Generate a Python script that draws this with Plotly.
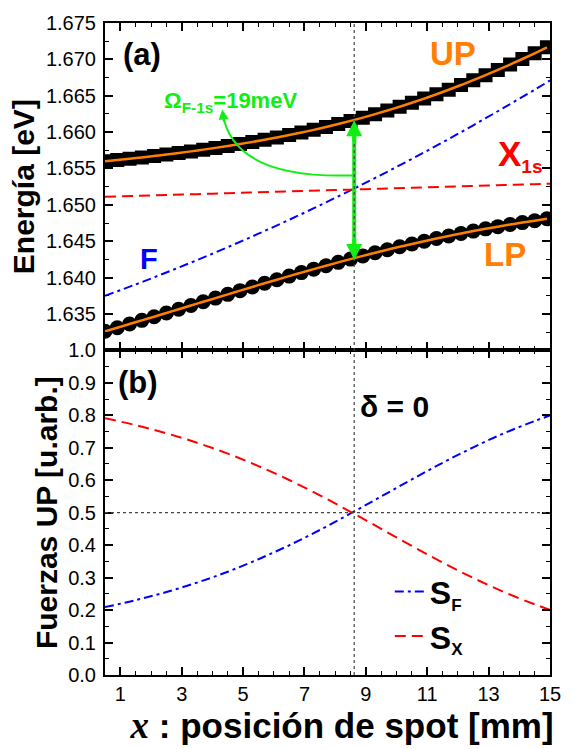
import plotly.graph_objects as go
from plotly.subplots import make_subplots

# ---------------- data ----------------
# experimental polariton energies (eV) vs spot position (mm)
x_pts = [0.5, 0.9, 1.3, 1.7, 2.1, 2.5, 2.9, 3.3, 3.7, 4.1, 4.5, 4.9, 5.3, 5.7,
         6.1, 6.5, 6.9, 7.3, 7.7, 8.1, 8.5, 8.9, 9.3, 9.7, 10.1, 10.5, 10.9,
         11.3, 11.7, 12.1, 12.5, 12.9, 13.3, 13.7, 14.1, 14.5, 14.9]
up_energy = [1.65598, 1.65615, 1.65633, 1.65652, 1.65671, 1.65692, 1.65713,
             1.65735, 1.65759, 1.65783, 1.65809, 1.65836, 1.65865, 1.65894,
             1.65926, 1.65959, 1.65994, 1.66031, 1.66070, 1.66111, 1.66154,
             1.66199, 1.66247, 1.66297, 1.66349, 1.66404, 1.66461, 1.66520,
             1.66582, 1.66647, 1.66714, 1.66783, 1.66855, 1.66929, 1.67005,
             1.67084, 1.67165]
lp_energy = [1.63262, 1.63311, 1.63361, 1.63412, 1.63462, 1.63513, 1.63565,
             1.63616, 1.63667, 1.63718, 1.63769, 1.63820, 1.63871, 1.63921,
             1.63970, 1.64020, 1.64068, 1.64116, 1.64163, 1.64209, 1.64254,
             1.64298, 1.64341, 1.64383, 1.64423, 1.64462, 1.64500, 1.64537,
             1.64572, 1.64606, 1.64639, 1.64670, 1.64700, 1.64729, 1.64756,
             1.64782, 1.64808]

# bare modes and Hopfield coefficients
x_line = [0.5, 1.5, 2.5, 3.5, 4.5, 5.5, 6.5, 7.5, 8.5, 9.5, 10.5, 11.5, 12.5,
          13.5, 14.5, 15.0]
f_energy = [1.63750, 1.63906, 1.64070, 1.64240, 1.64418, 1.64603, 1.64794,
            1.64993, 1.65199, 1.65412, 1.65632, 1.65859, 1.66094, 1.66336,
            1.66583, 1.66710]
x1s_energy = [1.65110, 1.65122, 1.65135, 1.65147, 1.65160, 1.65172, 1.65184,
              1.65197, 1.65209, 1.65222, 1.65234, 1.65246, 1.65259, 1.65271,
              1.65284, 1.65290]
s_f = [0.2090, 0.2305, 0.2555, 0.2846, 0.3181, 0.3566, 0.3995, 0.4466, 0.4974,
       0.5498, 0.6025, 0.6535, 0.7012, 0.7445, 0.7822, 0.7993]
s_x = [0.7910, 0.7695, 0.7445, 0.7154, 0.6819, 0.6434, 0.6005, 0.5534, 0.5026,
       0.4502, 0.3975, 0.3465, 0.2988, 0.2555, 0.2178, 0.2007]

x_cross = 8.62           # zero detuning position (mm)
up_cross = 1.66162       # UP at crossing
lp_cross = 1.64243       # LP at crossing

x_ticks = [1, 3, 5, 7, 9, 11, 13, 15]
y1_ticks = [1.635, 1.640, 1.645, 1.650, 1.655, 1.660, 1.665, 1.670, 1.675]
y2_ticks = [0.0, 0.1, 0.2, 0.3, 0.4, 0.5, 0.6, 0.7, 0.8, 0.9, 1.0]

# ---------------- style ----------------
FONT = "Liberation Sans"
ORANGE = "#FF8000"
BLUE = "#0000FF"
RED = "#FF0000"
GREEN = "#11EE11"
DASHDOT = "9px,4px,3px,4px"
DASH = "11px,6px"

fig = make_subplots(rows=2, cols=1, shared_xaxes=True, vertical_spacing=0)

fig.add_trace(go.Scatter(x=x_line, y=f_energy, mode="lines", line_shape="spline",
                         line=dict(color=BLUE, width=2, dash=DASHDOT),
                         showlegend=False), row=1, col=1)
fig.add_trace(go.Scatter(x=x_line, y=x1s_energy, mode="lines", line_shape="spline",
                         line=dict(color=RED, width=2, dash=DASH),
                         showlegend=False), row=1, col=1)
fig.add_trace(go.Scatter(x=x_pts, y=up_energy, mode="markers",
                         marker=dict(symbol="square", size=14, color="black"),
                         showlegend=False), row=1, col=1)
fig.add_trace(go.Scatter(x=x_pts, y=lp_energy, mode="markers",
                         marker=dict(symbol="circle", size=15, color="black"),
                         showlegend=False), row=1, col=1)
fig.add_trace(go.Scatter(x=x_pts, y=up_energy, mode="lines", line_shape="spline",
                         line=dict(color=ORANGE, width=2.5), showlegend=False),
              row=1, col=1)
fig.add_trace(go.Scatter(x=x_pts, y=lp_energy, mode="lines", line_shape="spline",
                         line=dict(color=ORANGE, width=2.5), showlegend=False),
              row=1, col=1)

SUB = '<span style="font-size:17px">{}</span>'
fig.add_trace(go.Scatter(x=x_line, y=s_f, mode="lines", line_shape="spline",
                         name="<b>S<sub>" + SUB.format("F") + "</sub></b>",
                         line=dict(color=BLUE, width=2, dash=DASHDOT)), row=2, col=1)
fig.add_trace(go.Scatter(x=x_line, y=s_x, mode="lines", line_shape="spline",
                         name="<b>S<sub>" + SUB.format("X") + "</sub></b>",
                         line=dict(color=RED, width=2, dash=DASH)), row=2, col=1)

axis_common = dict(showline=True, linecolor="black", linewidth=2, mirror="allticks",
                   ticks="inside", ticklen=8, tickwidth=1.5, tickcolor="black",
                   showgrid=False, zeroline=False,
                   tickfont=dict(family=FONT, size=20, color="black"))

fig.update_xaxes(**axis_common, range=[0.5, 15.0], tickvals=x_ticks,
                 minor=dict(dtick=0.5, tick0=1, ticklen=4, tickwidth=1.2,
                            tickcolor="black", ticks="inside", showgrid=False))
fig.update_xaxes(showticklabels=False, row=1, col=1)
fig.update_xaxes(title=dict(
    text='&nbsp;&nbsp;&nbsp;<span style="font-family:Liberation Serif;font-size:37px">'
         '<b><i>x</i></b></span><b> : posición de spot [mm]</b>',
    font=dict(family=FONT, size=35, color="black"), standoff=7), row=2, col=1)

fig.update_yaxes(**axis_common, ticklabelstandoff=3)
fig.update_yaxes(range=[1.630, 1.675], tickvals=y1_ticks,
                 tickformat=".3f", domain=[0.498, 1.0],
                 minor=dict(dtick=0.0025, tick0=1.630, ticklen=4, tickwidth=1.2,
                            tickcolor="black", ticks="inside", showgrid=False),
                 title=dict(text="<b>Energía [eV]</b>",
                            font=dict(family=FONT, size=30, color="black"),
                            standoff=2),
                 row=1, col=1)
fig.update_yaxes(range=[0.0, 1.0], tickvals=y2_ticks, tickformat=".1f",
                 domain=[0.0, 0.498],
                 minor=dict(dtick=0.05, tick0=0, ticklen=4, tickwidth=1.2,
                            tickcolor="black", ticks="inside", showgrid=False),
                 title=dict(text="<b>Fuerzas UP [u.arb.]</b>",
                            font=dict(family=FONT, size=30, color="black"),
                            standoff=2),
                 row=2, col=1)

shapes = [
    # green shaft of the double arrow (Rabi splitting)
    dict(type="line", xref="x", yref="y", x0=x_cross, x1=x_cross,
         y0=lp_cross + 0.0012, y1=up_cross - 0.0012,
         line=dict(color=GREEN, width=4), layer="above"),
    # curved arrow towards the label
    dict(type="path", xref="x", yref="y",
         path="M 8.56,1.65405 Q 4.64,1.65351 4.33,1.66270",
         line=dict(color=GREEN, width=2), layer="above"),
    # zero-detuning vertical dotted line
    dict(type="line", xref="x", yref="paper", x0=x_cross, x1=x_cross, y0=0, y1=1,
         line=dict(color="#444444", width=1.2, dash="dot"), layer="above"),
    # S = 0.5 horizontal dotted line
    dict(type="line", xref="x2 domain", yref="y2", x0=0, x1=1, y0=0.5, y1=0.5,
         line=dict(color="#444444", width=1.2, dash="dot"), layer="above"),
]
fig.update_layout(shapes=shapes)

def txt(text, x, y, size, color="black", xref="x", yref="y", xanchor="center",
        yanchor="middle"):
    return dict(text=text, x=x, y=y, xref=xref, yref=yref, showarrow=False,
                xanchor=xanchor, yanchor=yanchor,
                font=dict(family=FONT, size=size, color=color))

annotations = [
    txt("<b>(a)</b>", 1.71, 1.6707, 31),
    txt("<b>UP</b>", 11.84, 1.67081, 33, ORANGE),
    txt("<b>LP</b>", 13.53, 1.64324, 33, ORANGE),
    txt("<b>F</b>", 1.93, 1.64250, 29, BLUE),
    txt('<b>X<sub><span style="font-size:19px">1s</span></sub></b>',
        13.24, 1.6568, 35, RED, xanchor="left"),
    txt("<b>Ω<sub>F-1s</sub>=19meV</b>", 2.35, 1.6641, 22, GREEN, xanchor="left"),
    txt("<b>(b)</b>", 1.58, 0.90, 31, xref="x2", yref="y2"),
    txt("<b>δ = 0</b>", 9.93, 0.826, 30, xref="x2", yref="y2"),
    # arrow heads of the double arrow
    dict(x=x_cross, y=up_cross, xref="x", yref="y", ax=0, ay=22, text="",
         showarrow=True, arrowhead=2, arrowsize=0.8, arrowwidth=4,
         arrowcolor=GREEN),
    dict(x=x_cross, y=lp_cross, xref="x", yref="y", ax=0, ay=-22, text="",
         showarrow=True, arrowhead=2, arrowsize=0.8, arrowwidth=4,
         arrowcolor=GREEN),
    # head of the curved arrow
    dict(x=4.32, y=1.66311, xref="x", yref="y", ax=2, ay=14, text="",
         showarrow=True, arrowhead=2, arrowsize=1, arrowwidth=2,
         arrowcolor=GREEN),
]
fig.update_layout(annotations=annotations)

fig.update_layout(
    width=573, height=749,
    margin=dict(l=105, r=13, t=16, b=72),
    paper_bgcolor="white", plot_bgcolor="white",
    font=dict(family=FONT, color="black"),
    legend=dict(x=0.64, y=0.17, xanchor="left", yanchor="top",
                bgcolor="rgba(0,0,0,0)",
                font=dict(family=FONT, size=32, color="black"),
                tracegroupgap=0),
)

fig.write_html("out.html")
